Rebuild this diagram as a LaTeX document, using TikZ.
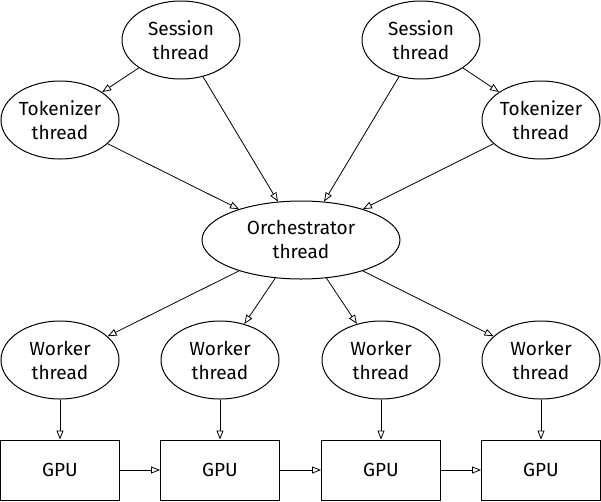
\documentclass[tikz,border=0pt]{standalone}
\usepackage{fontspec}
\setmainfont{Fira Sans}
\usetikzlibrary{shapes.geometric,arrows.meta}
\begin{document}
\begin{tikzpicture}[x=1pt,y=-1pt,
  every node/.style={font=\fontsize{19}{24}\selectfont, text=black},
  ell/.style={draw, ellipse, inner sep=0pt, minimum width=118pt, minimum height=78pt, align=center, line width=1pt},
  bigell/.style={ell, minimum width=198pt},
  gpubox/.style={draw, rectangle, inner sep=0pt, minimum width=119pt, minimum height=60pt, line width=1pt},
  arr/.style={-{Triangle[open,length=9pt,width=7pt]}, line width=0.8pt}]
\useasboundingbox (0,0) rectangle (601,501);
\node[ell] (s1) at (181,40) {Session\\thread};
\node[ell] (s2) at (421,40) {Session\\thread};
\node[ell] (t1) at (60,120) {Tokenizer\\thread};
\node[ell] (t2) at (541,120) {Tokenizer\\thread};
\node[bigell] (o) at (301,240) {Orchestrator\\thread};
\node[ell] (w1) at (60,360) {Worker\\thread};
\node[ell] (w2) at (220,360) {Worker\\thread};
\node[ell] (w3) at (381,360) {Worker\\thread};
\node[ell] (w4) at (541,360) {Worker\\thread};
\node[gpubox] (g1) at (60,470) {GPU};
\node[gpubox] (g2) at (220,470) {GPU};
\node[gpubox] (g3) at (381,470) {GPU};
\node[gpubox] (g4) at (541,470) {GPU};
\draw[arr] (s1) -- (t1);
\draw[arr] (s1) -- (o);
\draw[arr] (t1) -- (o);
\draw[arr] (s2) -- (t2);
\draw[arr] (s2) -- (o);
\draw[arr] (t2) -- (o);
\draw[arr] (o) -- (w1);
\draw[arr] (o) -- (w2);
\draw[arr] (o) -- (w3);
\draw[arr] (o) -- (w4);
\draw[arr] (w1) -- (g1);
\draw[arr] (w2) -- (g2);
\draw[arr] (w3) -- (g3);
\draw[arr] (w4) -- (g4);
\draw[arr] (g1) -- (g2);
\draw[arr] (g2) -- (g3);
\draw[arr] (g3) -- (g4);
\end{tikzpicture}
\end{document}
